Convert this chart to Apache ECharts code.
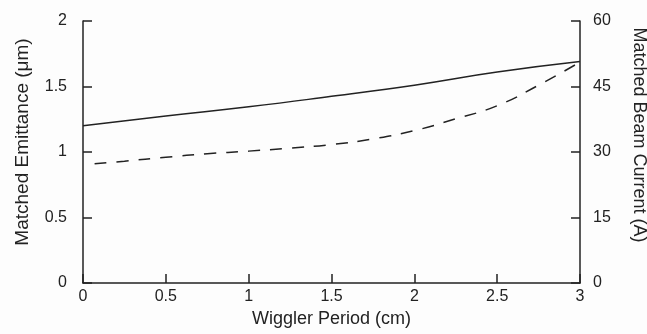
<!DOCTYPE html>
<html><head><meta charset="utf-8">
<script src="https://cdn.jsdelivr.net/npm/echarts@6/dist/echarts.min.js"></script>
<style>html,body{margin:0;padding:0;background:#fdfdfd}#c{width:647px;height:334px}</style>
</head><body><div id="c"></div>
<script>
const xTicks = [0, 0.5, 1, 1.5, 2, 2.5, 3];
const emittanceX = [0, 0.5, 1, 1.5, 2, 2.5, 3];
const emittance = [1.20, 1.275, 1.345, 1.425, 1.51, 1.61, 1.69];
const currentX = [0.07, 0.25, 0.5, 0.75, 1, 1.25, 1.5, 1.75, 2, 2.25, 2.5, 2.75, 3];
const current = [27.3, 27.9, 28.8, 29.6, 30.2, 30.9, 31.7, 33.0, 34.9, 37.6, 40.6, 45.3, 50.6];

const chart = echarts.init(document.getElementById('c'));
const font = 'Liberation Sans, Arial, sans-serif';
const axisCommon = {
  axisLine: {show: true, lineStyle: {color: '#222', width: 1.5}},
  axisTick: {show: true, inside: true, length: 9, lineStyle: {color: '#222', width: 1.5}},
  splitLine: {show: false},
  axisLabel: {color: '#222', fontSize: 16, fontFamily: font},
  nameTextStyle: {color: '#222', fontSize: 18, fontFamily: font}
};
chart.setOption({
  backgroundColor: '#fdfdfd',
  animation: false,
  grid: {left: 83, right: 67, top: 21, bottom: 51, containLabel: false, outerBoundsMode: 'none'},
  xAxis: Object.assign({}, axisCommon, {
    type: 'value', min: 0, max: 3, interval: 0.5,
    name: 'Wiggler Period (cm)', nameLocation: 'middle', nameGap: 27,
    axisLabel: Object.assign({}, axisCommon.axisLabel, {margin: 6})
  }),
  yAxis: [
    Object.assign({}, axisCommon, {
      type: 'value', min: 0, max: 2, interval: 0.5, position: 'left',
      name: 'Matched Emittance (\u03bcm)', nameLocation: 'middle', nameGap: 51, nameRotate: 90,
      nameTextStyle: Object.assign({}, axisCommon.nameTextStyle, {fontSize: 19, padding: [0, 0, 0, 20]}),
      axisLabel: Object.assign({}, axisCommon.axisLabel, {margin: 16})
    }),
    Object.assign({}, axisCommon, {
      type: 'value', min: 0, max: 60, interval: 15, position: 'right',
      name: 'Matched Beam Current (A)', nameLocation: 'middle', nameGap: 50, nameRotate: -90,
      nameTextStyle: Object.assign({}, axisCommon.nameTextStyle, {padding: [0, 34, 0, 0]}),
      axisLabel: Object.assign({}, axisCommon.axisLabel, {margin: 13})
    })
  ],
  series: [
    {type: 'line', yAxisIndex: 0, smooth: true, symbol: 'none',
     data: emittanceX.map((x, i) => [x, emittance[i]]),
     lineStyle: {color: '#222', width: 1.5}},
    {type: 'line', yAxisIndex: 1, smooth: true, symbol: 'none',
     data: currentX.map((x, i) => [x, current[i]]),
     lineStyle: {color: '#222', width: 1.5, type: [12, 10]}}
  ]
});
</script></body></html>
